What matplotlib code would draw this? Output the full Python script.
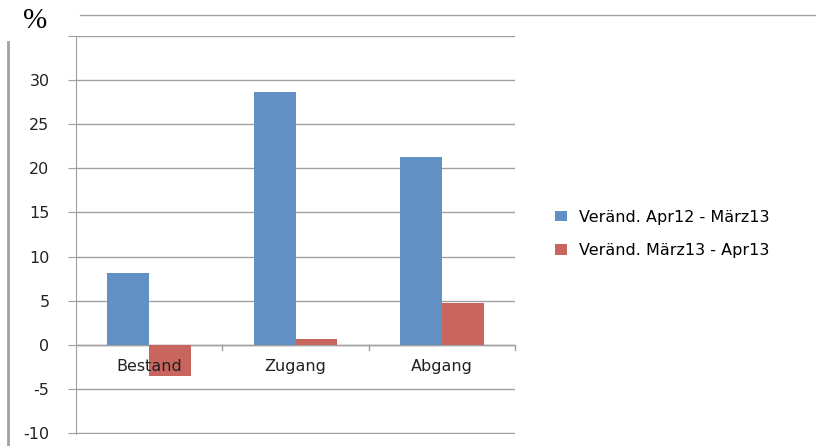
import numpy as np
import matplotlib.pyplot as plt
from matplotlib.lines import Line2D

categories = ["Bestand", "Zugang", "Abgang"]
series_names = ["Veränd. Apr12 - März13", "Veränd. März13 - Apr13"]
vals_year = [8.2, 28.7, 21.3]
vals_month = [-3.5, 0.7, 4.8]
yticks = [-10, -5, 0, 5, 10, 15, 20, 25, 30, 35]

W, H = 816, 446
fig = plt.figure(figsize=(W / 100, H / 100), dpi=100)
ax = fig.add_axes([76 / W, 1 - 434 / H, (515 - 76) / W, (434 - 36) / H])

x = np.arange(len(categories))
bw = 0.285
ax.bar(x - bw / 2, vals_year, bw, color="#6190C4", label=series_names[0], zorder=3)
ax.bar(x + bw / 2, vals_month, bw, color="#C9655F", label=series_names[1], zorder=3)

ax.set_xlim(-0.5, 2.5)
ax.set_ylim(-10.1, 35)
ax.set_yticks(yticks)
ax.set_yticklabels([str(t) if t != 35 else "" for t in yticks], fontsize=11.5, color="#222222")
ax.yaxis.grid(True, color="#A0A0A0", linewidth=1, zorder=0)
ax.tick_params(axis="y", length=6, color="#A0A0A0", pad=13)

# category labels sit just below the zero line
ax.set_xticks([])
for i, c in enumerate(categories):
    ax.text(i, -2.4, c, ha="center", va="center", fontsize=11.5, color="#222222", zorder=4)
ax.axhline(0, color="#A0A0A0", linewidth=1, zorder=2)
for b in [0.5, 1.5, 2.5]:
    ax.plot([b, b], [0, -0.6], color="#A0A0A0", linewidth=1, zorder=2, clip_on=False)

for s in ["top", "right", "bottom"]:
    ax.spines[s].set_visible(False)
ax.spines["left"].set_color("#A0A0A0")

ax.legend(loc="center left", bbox_to_anchor=(541 / W, 1 - 234 / H), bbox_transform=fig.transFigure,
          frameon=False, fontsize=11.5, handlelength=0.7, handleheight=0.6, labelspacing=1.15,
          handletextpad=0.8)

# frame decoration
fig.add_artist(Line2D([80 / W, 1], [1 - 15 / H, 1 - 15 / H], color="#A0A0A0", linewidth=1))
fig.add_artist(Line2D([8 / W, 8 / W], [0, 1 - 42 / H], color="#A0A0A0", linewidth=2))
fig.text(35 / W, 1 - 21 / H, "%", fontsize=21, family="Liberation Serif", va="center", ha="center")

plt.savefig("out.png", dpi=100)
